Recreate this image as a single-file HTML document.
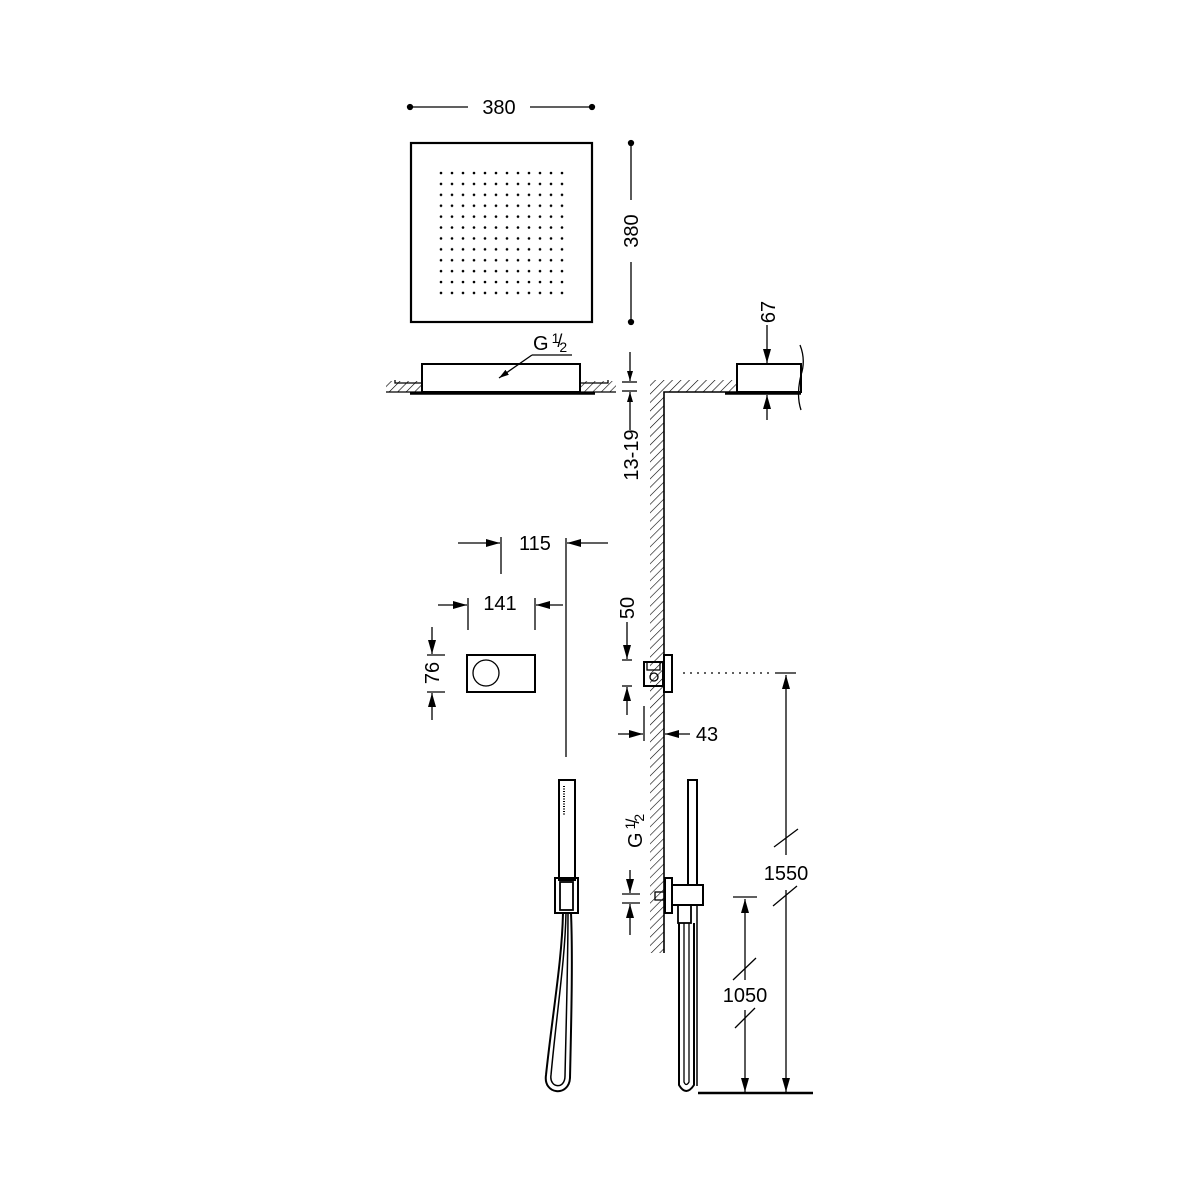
<!DOCTYPE html>
<html><head><style>html,body{margin:0;padding:0;background:#fff}svg{display:block}text{font-family:"Liberation Sans",sans-serif;font-size:20px;fill:#000}</style></head><body>
<svg width="1200" height="1200" viewBox="0 0 1200 1200" xmlns="http://www.w3.org/2000/svg">
<defs>
<pattern id="h" width="6" height="6" patternUnits="userSpaceOnUse" patternTransform="rotate(45)"><line x1="0" y1="0" x2="0" y2="6" stroke="#000" stroke-width="1.2"/></pattern>
<pattern id="d" x="439.5" y="171.5" width="11" height="10.9" patternUnits="userSpaceOnUse"><circle cx="1.5" cy="1.5" r="1.3" fill="#000"/></pattern>
<marker id="a" markerWidth="10" markerHeight="6" refX="10" refY="3" orient="auto" markerUnits="userSpaceOnUse"><path d="M0,0 L10,3 L0,6z" fill="#000"/></marker>
<marker id="a2" markerWidth="14" markerHeight="8" refX="14" refY="4" orient="auto" markerUnits="userSpaceOnUse"><path d="M0,0 L14,4 L0,8z" fill="#000"/></marker>
</defs>
<g stroke="#000" fill="none" stroke-width="1.3">
<line x1="410" y1="107" x2="468" y2="107"/><line x1="530" y1="107" x2="592" y2="107"/>
<circle cx="410" cy="107" r="2.5" fill="#000"/><circle cx="592" cy="107" r="2.5" fill="#000"/>
<rect x="411" y="143" width="181" height="179" stroke-width="2.2"/>
<rect x="438" y="171" width="128" height="131" fill="url(#d)" stroke="none"/>
<line x1="631" y1="143" x2="631" y2="200"/><line x1="631" y1="262" x2="631" y2="322"/>
<circle cx="631" cy="143" r="2.5" fill="#000"/><circle cx="631" cy="322" r="2.5" fill="#000"/>
<rect x="386" y="381" width="36" height="11" fill="url(#h)" stroke="none"/>
<rect x="580" y="381" width="36" height="11" fill="url(#h)" stroke="none"/>
<line x1="386" y1="392" x2="422" y2="392"/><line x1="580" y1="392" x2="616" y2="392"/>
<path d="M395,380 L395,383 L422,383"/><path d="M608,380 L608,383 L580,383"/>
<rect x="422" y="364" width="158" height="28" stroke-width="2"/>
<line x1="410" y1="393.5" x2="595" y2="393.5" stroke-width="2.5"/>
<line x1="532" y1="355" x2="572" y2="355"/>
<line x1="532" y1="355" x2="499" y2="378" marker-end="url(#a)"/>
<line x1="630" y1="352" x2="630" y2="381" marker-end="url(#a)"/>
<line x1="622" y1="382" x2="637" y2="382"/><line x1="622" y1="391" x2="637" y2="391"/>
<line x1="630" y1="430" x2="630" y2="392" marker-end="url(#a)"/>
<path d="M650,380 L737,380 L737,392 L664,392 L664,953 L650,953 Z" fill="url(#h)" stroke="none"/>
<path d="M664,953 L664,392 L737,392" stroke-width="1.6"/>
<rect x="737" y="364" width="64" height="28" stroke-width="2"/>
<line x1="725" y1="393.5" x2="801" y2="393.5" stroke-width="2.5"/>
<path d="M800,345 Q806,360 801,375 Q796,395 801,410"/>
<line x1="767" y1="325" x2="767" y2="363" marker-end="url(#a2)"/>
<line x1="767" y1="420" x2="767" y2="395" marker-end="url(#a2)"/>
<line x1="458" y1="543" x2="500" y2="543" marker-end="url(#a2)"/>
<line x1="501" y1="537" x2="501" y2="574"/>
<line x1="608" y1="543" x2="567" y2="543" marker-end="url(#a2)"/>
<line x1="566" y1="538" x2="566" y2="757"/>
<line x1="438" y1="605" x2="467" y2="605" marker-end="url(#a2)"/>
<line x1="468" y1="598" x2="468" y2="630"/><line x1="535" y1="598" x2="535" y2="630"/>
<line x1="563" y1="605" x2="536" y2="605" marker-end="url(#a2)"/>
<rect x="467" y="655" width="68" height="37" stroke-width="2"/>
<circle cx="486" cy="673" r="13"/>
<line x1="432" y1="627" x2="432" y2="654" marker-end="url(#a2)"/>
<line x1="427" y1="655" x2="445" y2="655"/><line x1="427" y1="692" x2="445" y2="692"/>
<line x1="432" y1="720" x2="432" y2="693" marker-end="url(#a2)"/>
<rect x="644" y="662" width="19" height="24" stroke-width="2"/>
<rect x="647" y="662" width="13" height="8"/>
<circle cx="654" cy="677" r="4"/>
<rect x="664" y="655" width="8" height="37" stroke-width="2"/>
<line x1="683" y1="673" x2="770" y2="673" stroke-dasharray="2,5"/>
<line x1="627" y1="622" x2="627" y2="659" marker-end="url(#a2)"/>
<line x1="622" y1="660" x2="632" y2="660"/><line x1="622" y1="686" x2="632" y2="686"/>
<line x1="627" y1="715" x2="627" y2="687" marker-end="url(#a2)"/>
<line x1="644" y1="706" x2="644" y2="741"/>
<line x1="618" y1="734" x2="643" y2="734" marker-end="url(#a2)"/>
<line x1="690" y1="734" x2="665" y2="734" marker-end="url(#a2)"/>
<rect x="559" y="780" width="16" height="100" stroke-width="2"/>
<line x1="564" y1="786" x2="564" y2="815" stroke-dasharray="1,1.5" stroke-width="2"/>
<rect x="555" y="878" width="23" height="35" stroke-width="2"/>
<rect x="560" y="882" width="13" height="28" stroke-width="1.8"/>
<path d="M563,913 C562,960 553,1010 546,1075 C543,1095 569,1097 570,1078 C571,1030 573,960 571,913" stroke-width="2"/>
<path d="M566,913 C565,960 557,1010 551,1075 C549,1088 565,1090 565,1076 C566,1030 568,960 568,913" stroke-width="1.5"/>
<rect x="688" y="780" width="9" height="105" stroke-width="2"/>
<rect x="672" y="885" width="31" height="20" stroke-width="2"/>
<rect x="665" y="878" width="7" height="35" stroke-width="2"/>
<rect x="655" y="892" width="10" height="8"/>
<rect x="678" y="905" width="13" height="18" stroke-width="1.8"/>
<path d="M679,923 L679,1085 Q686,1097 694,1085 L694,923" stroke-width="2"/>
<path d="M684,923 L684,1082 Q686,1087 689,1082 L689,923" stroke-width="1.3"/>
<line x1="697" y1="905" x2="697" y2="1086" stroke-width="1.5"/>
<line x1="630" y1="870" x2="630" y2="893" marker-end="url(#a2)"/>
<line x1="622" y1="894" x2="640" y2="894"/><line x1="622" y1="903" x2="640" y2="903"/>
<line x1="630" y1="935" x2="630" y2="904" marker-end="url(#a2)"/>
<line x1="775" y1="673" x2="796" y2="673"/>
<line x1="786" y1="855" x2="786" y2="675" marker-end="url(#a2)"/>
<line x1="786" y1="890" x2="786" y2="1092" marker-end="url(#a2)"/>
<line x1="774" y1="847" x2="798" y2="829"/><line x1="773" y1="906" x2="797" y2="886"/>
<line x1="733" y1="897" x2="757" y2="897"/>
<line x1="745" y1="980" x2="745" y2="899" marker-end="url(#a2)"/>
<line x1="745" y1="1010" x2="745" y2="1092" marker-end="url(#a2)"/>
<line x1="733" y1="980" x2="756" y2="958"/><line x1="735" y1="1028" x2="755" y2="1008"/>
<line x1="698" y1="1093" x2="813" y2="1093" stroke-width="2.5"/>
</g>
<text x="499" y="114" text-anchor="middle">380</text>
<text transform="translate(638,231) rotate(-90)" text-anchor="middle">380</text>
<text x="533" y="350">G<tspan dx="3" dy="-7" font-size="14">1</tspan><tspan dx="-2" dy="4" font-size="18">/</tspan><tspan dx="-3" dy="5" font-size="14">2</tspan></text>
<text transform="translate(638,455) rotate(-90)" text-anchor="middle">13-19</text>
<text transform="translate(775,312) rotate(-90)" text-anchor="middle">67</text>
<text x="535" y="550" text-anchor="middle">115</text>
<text x="500" y="610" text-anchor="middle">141</text>
<text transform="translate(439,673) rotate(-90)" text-anchor="middle">76</text>
<text transform="translate(634,608) rotate(-90)" text-anchor="middle">50</text>
<text x="707" y="741" text-anchor="middle">43</text>
<text transform="translate(642,848) rotate(-90)">G<tspan dx="3" dy="-7" font-size="14">1</tspan><tspan dx="-2" dy="4" font-size="18">/</tspan><tspan dx="-3" dy="5" font-size="14">2</tspan></text>
<text x="786" y="880" text-anchor="middle">1550</text>
<text x="745" y="1002" text-anchor="middle">1050</text>
</svg>
</body></html>
